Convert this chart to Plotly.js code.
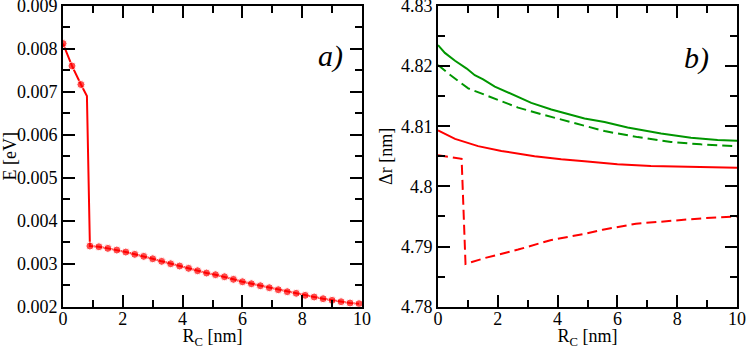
<!DOCTYPE html>
<html>
<head>
<meta charset="utf-8">
<script src="https://cdn.plot.ly/plotly-3.0.1.min.js"></script>
<style>html,body{margin:0;padding:0;background:#fff;}#chart{width:747px;height:349px;}</style>
</head>
<body>
<div id="chart"></div>
<script>
// Panel a): energy vs R_C
var aX = [0, 0.3, 0.6, 0.8, 0.9, 1.2, 1.5, 1.8, 2.1, 2.4, 2.7, 3.0, 3.3, 3.6, 3.9, 4.2, 4.5, 4.8, 5.1, 5.4, 5.7, 6.0, 6.3, 6.6, 6.9, 7.2, 7.5, 7.8, 8.1, 8.4, 8.7, 9.0, 9.3, 9.6, 9.9];
var aE = [0.008126, 0.007605, 0.007172, 0.006907, 0.003412, 0.003395, 0.003358, 0.003319, 0.003272, 0.003219, 0.003172, 0.003116, 0.003056, 0.003000, 0.002947, 0.002893, 0.002837, 0.002784, 0.002745, 0.002698, 0.002637, 0.002581, 0.002535, 0.002488, 0.002442, 0.002395, 0.002349, 0.002312, 0.002265, 0.002226, 0.002186, 0.002149, 0.002116, 0.002086, 0.002070];
var aMarker = [1, 1, 1, 0, 1, 1, 1, 1, 1, 1, 1, 1, 1, 1, 1, 1, 1, 1, 1, 1, 1, 1, 1, 1, 1, 1, 1, 1, 1, 1, 1, 1, 1, 1, 1];

// Panel b): delta r vs R_C
var gSolidX = [0, 0.23, 0.57, 0.96, 1.23, 1.51, 1.9, 2.46, 3.12, 3.79, 4.9, 5.57, 6.34, 7.46, 8.46, 9.35, 10];
var gSolidY = [4.8235, 4.8222, 4.8209, 4.8196, 4.8185, 4.8178, 4.8166, 4.8153, 4.8139, 4.8128, 4.8113, 4.8107, 4.8098, 4.8088, 4.8081, 4.8077, 4.8076];
var gDashX = [0, 0.34, 1.01, 1.57, 2.12, 2.68, 3.46, 4.9, 5.57, 6.68, 7.79, 8.79, 10];
var gDashY = [4.8202, 4.8188, 4.8163, 4.8152, 4.8142, 4.8131, 4.8120, 4.8101, 4.8092, 4.8082, 4.8074, 4.8070, 4.8067];
var rSolidX = [0, 0.57, 1.34, 2.12, 3.23, 4.12, 4.9, 6.0, 7.12, 8.5, 10];
var rSolidY = [4.8093, 4.8079, 4.8067, 4.8059, 4.8050, 4.8045, 4.8042, 4.8037, 4.8034, 4.8032, 4.8031];
var rDashX = [0, 0.79, 0.92, 1.57, 2.68, 3.79, 4.9, 5.51, 6.62, 7.73, 8.84, 10];
var rDashY = [4.8052, 4.8046, 4.7871, 4.7881, 4.7895, 4.7911, 4.7921, 4.7928, 4.7938, 4.7943, 4.7947, 4.7950];

// Tick labels
var xTickVals = [0, 2, 4, 6, 8, 10];
var xTickText = ['0', '2', '4', '6', '8', '10'];
var aTickVals = [0.002, 0.003, 0.004, 0.005, 0.006, 0.007, 0.008, 0.009];
var aTickText = ['0.002', '0.003', '0.004', '0.005', '0.006', '0.007', '0.008', '0.009'];
var bTickVals = [4.78, 4.79, 4.8, 4.81, 4.82, 4.83];
var bTickText = ['4.78', '4.79', '4.8', '4.81', '4.82', '4.83'];

var red = '#ff0000', green = '#009600';
var dashed = '10px,5px';

var traces = [
  {x: aX, y: aE, xaxis: 'x', yaxis: 'y', mode: 'lines+markers',
   line: {color: red, width: 2},
   marker: {color: red, size: aMarker.map(function(m){return m ? 8 : 0;})}},
  {x: gSolidX, y: gSolidY, xaxis: 'x2', yaxis: 'y2', mode: 'lines', line: {color: green, width: 2}},
  {x: gDashX, y: gDashY, xaxis: 'x2', yaxis: 'y2', mode: 'lines', line: {color: green, width: 2, dash: dashed}},
  {x: rSolidX, y: rSolidY, xaxis: 'x2', yaxis: 'y2', mode: 'lines', line: {color: red, width: 2}},
  {x: rDashX, y: rDashY, xaxis: 'x2', yaxis: 'y2', mode: 'lines', line: {color: red, width: 2, dash: dashed}}
];

var fam = 'Liberation Serif';
function mkfont(size) { return {family: fam, size: size, color: '#000'}; }
function common(o) {
  o.showgrid = false; o.zeroline = false;
  o.showline = true; o.linewidth = 2; o.linecolor = '#000'; o.mirror = 'ticks';
  o.ticks = 'inside'; o.ticklen = 12; o.tickwidth = 2; o.tickcolor = '#000';
  o.tickmode = 'array'; o.tickfont = mkfont(18);
  o.ticklabeloverflow = 'allow';
  return o;
}
function xax(domain, anchor) {
  return common({domain: domain, anchor: anchor, range: [0, 10],
    tickvals: xTickVals, ticktext: xTickText, ticklabelstandoff: -5,
    minor: {dtick: 1, ticks: 'inside', ticklen: 7, tickwidth: 2, tickcolor: '#000'},
    title: {text: 'R<sub>C</sub> [nm]', font: mkfont(18), standoff: 0}});
}
function yax(domain, anchor, range, vals, text, mdt, title) {
  return common({domain: domain, anchor: anchor, range: range,
    tickvals: vals, ticktext: text,
    minor: {dtick: mdt, ticks: 'inside', ticklen: 7, tickwidth: 2, tickcolor: '#000'},
    title: {text: title, font: mkfont(18), standoff: 4}});
}

var yd = [1 - 306.7 / 349, 1 - 6 / 349];
var layout = {
  width: 747, height: 349,
  margin: {l: 0, r: 0, t: 0, b: 0},
  paper_bgcolor: '#fff', plot_bgcolor: '#fff',
  showlegend: false,
  font: mkfont(18),
  xaxis: xax([63 / 747, 362 / 747], 'y'),
  yaxis: yax(yd, 'x', [0.002, 0.009], aTickVals, aTickText, 0.0005, 'E [eV]'),
  xaxis2: xax([438 / 747, 737 / 747], 'y2'),
  yaxis2: yax(yd, 'x2', [4.78, 4.83], bTickVals, bTickText, 0.005, '&#916;r [nm]'),
  annotations: [
    {xref: 'paper', yref: 'paper', x: 330 / 747, y: 1 - 37 / 349, text: '<i>a)</i>', showarrow: false,
     font: mkfont(30)},
    {xref: 'paper', yref: 'paper', x: 711 / 747, y: 1 - 39 / 349, text: '<i>b)</i>', showarrow: false,
     font: mkfont(30)}
  ]
};

Plotly.newPlot('chart', traces, layout, {displayModeBar: false, staticPlot: true});
</script>
</body>
</html>
